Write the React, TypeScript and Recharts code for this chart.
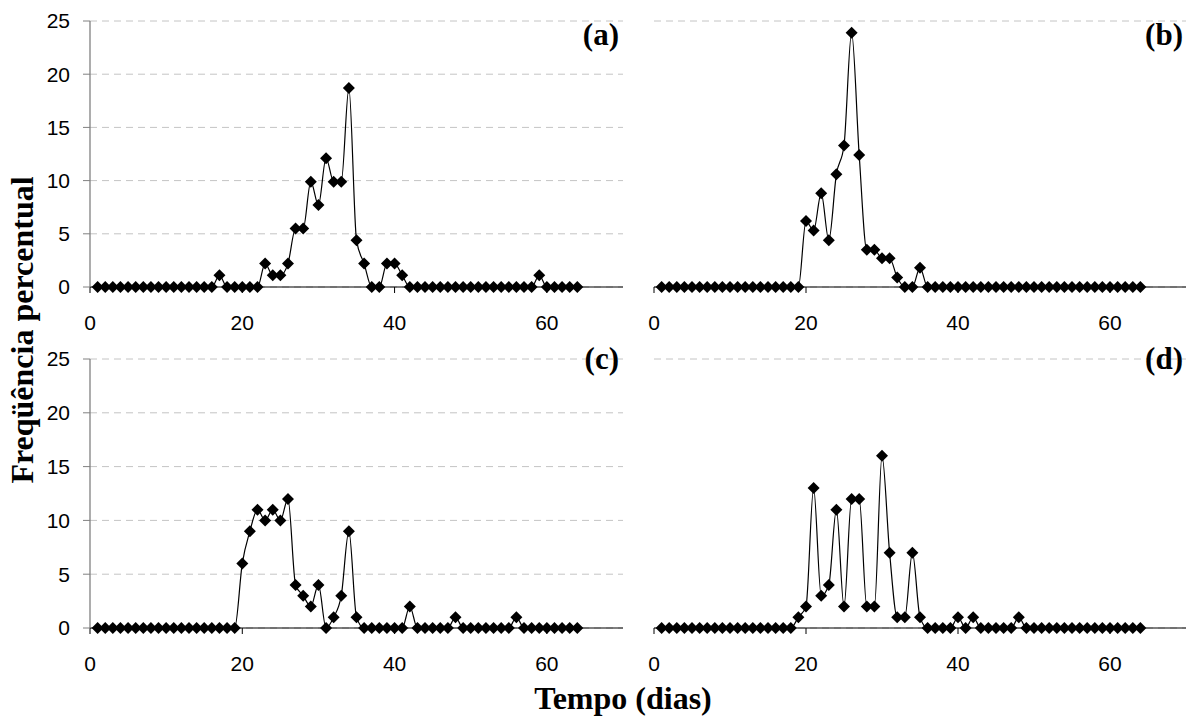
import React from "react";
import { LineChart, Line, XAxis, YAxis, CartesianGrid } from "recharts";

const days = [
  1, 2, 3, 4, 5, 6, 7, 8, 9, 10, 11, 12, 13, 14, 15, 16,
  17, 18, 19, 20, 21, 22, 23, 24, 25, 26, 27, 28, 29, 30, 31, 32,
  33, 34, 35, 36, 37, 38, 39, 40, 41, 42, 43, 44, 45, 46, 47, 48,
  49, 50, 51, 52, 53, 54, 55, 56, 57, 58, 59, 60, 61, 62, 63, 64,
];

const seriesA = [
  0, 0, 0, 0, 0, 0, 0, 0, 0, 0, 0, 0, 0, 0, 0, 0,
  1.1, 0, 0, 0, 0, 0, 2.2, 1.1, 1.1, 2.2, 5.5, 5.5, 9.9, 7.7, 12.1, 9.9,
  9.9, 18.7, 4.4, 2.2, 0, 0, 2.2, 2.2, 1.1, 0, 0, 0, 0, 0, 0, 0,
  0, 0, 0, 0, 0, 0, 0, 0, 0, 0, 1.1, 0, 0, 0, 0, 0,
];

const seriesB = [
  0, 0, 0, 0, 0, 0, 0, 0, 0, 0, 0, 0, 0, 0, 0, 0,
  0, 0, 0, 6.2, 5.3, 8.8, 4.4, 10.6, 13.3, 23.9, 12.4, 3.5, 3.5, 2.7, 2.7, 0.9,
  0, 0, 1.8, 0, 0, 0, 0, 0, 0, 0, 0, 0, 0, 0, 0, 0,
  0, 0, 0, 0, 0, 0, 0, 0, 0, 0, 0, 0, 0, 0, 0, 0,
];

const seriesC = [
  0, 0, 0, 0, 0, 0, 0, 0, 0, 0, 0, 0, 0, 0, 0, 0,
  0, 0, 0, 6, 9, 11, 10, 11, 10, 12, 4, 3, 2, 4, 0, 1,
  3, 9, 1, 0, 0, 0, 0, 0, 0, 2, 0, 0, 0, 0, 0, 1,
  0, 0, 0, 0, 0, 0, 0, 1, 0, 0, 0, 0, 0, 0, 0, 0,
];

const seriesD = [
  0, 0, 0, 0, 0, 0, 0, 0, 0, 0, 0, 0, 0, 0, 0, 0,
  0, 0, 1, 2, 13, 3, 4, 11, 2, 12, 12, 2, 2, 16, 7, 1,
  1, 7, 1, 0, 0, 0, 0, 1, 0, 1, 0, 0, 0, 0, 0, 1,
  0, 0, 0, 0, 0, 0, 0, 0, 0, 0, 0, 0, 0, 0, 0, 0,
];

const xTicks = [0, 20, 40, 60];
const yTicks = [0, 5, 10, 15, 20, 25];
const panelLabels = ["(a)", "(b)", "(c)", "(d)"];
const yTitle = "Freqüência percentual";
const xTitle = "Tempo (dias)";

const renderDiamond = (props: any) => {
  const { cx, cy, index } = props;
  if (cx == null || cy == null) return <g key={`n${index}`} />;
  const r = 6;
  return (
    <path
      key={`d${index}`}
      d={`M${cx},${cy - r}L${cx + r},${cy}L${cx},${cy + r}L${cx - r},${cy}Z`}
      fill="#000"
      stroke="none"
    />
  );
};

const tickFont = { fontFamily: "'Liberation Sans', Arial, sans-serif", fontSize: 21, fill: "#000" };

type PanelProps = {
  values: number[];
  left: number;
  top: number;
  width: number;
  height: number;
  margin: { top: number; right: number; bottom: number; left: number };
  showY: boolean;
};

function Panel({ values, left, top, width, height, margin, showY }: PanelProps) {
  const data = days.map((d, i) => ({ day: d, v: values[i] }));
  return (
    <div style={{ position: "absolute", left, top, width, height }}>
      <LineChart width={width} height={height} data={data} margin={margin}>
        <CartesianGrid
          vertical={false}
          stroke="#c4c4c4"
          strokeDasharray="7 5"
          strokeWidth={1}
        />
        <XAxis
          type="number"
          dataKey="day"
          domain={[0, 70]}
          ticks={xTicks}
          interval={0}
          height={43}
          tickSize={6}
          tickMargin={22}
          axisLine={{ stroke: "#000", strokeWidth: 1 }}
          tickLine={{ stroke: "#000", strokeWidth: 1 }}
          tick={tickFont}
        />
        {showY ? (
          <YAxis
            type="number"
            domain={[0, 25]}
            ticks={yTicks}
            interval={0}
            width={90}
            tickSize={7}
            tickMargin={13}
            axisLine={{ stroke: "#808080", strokeWidth: 1.3 }}
            tickLine={{ stroke: "#808080", strokeWidth: 1 }}
            tick={tickFont}
          />
        ) : (
          <YAxis
            type="number"
            domain={[0, 25]}
            ticks={yTicks}
            interval={0}
            width={0}
            axisLine={false}
            tickLine={false}
            tick={false}
          />
        )}
        <Line
          dataKey="v"
          type="monotone"
          stroke="#000"
          strokeWidth={1.2}
          dot={renderDiamond}
          activeDot={false}
          isAnimationActive={false}
        />
      </LineChart>
    </div>
  );
}

const serif = "'Liberation Serif', 'Times New Roman', serif";

export default function App() {
  return (
    <div
      style={{
        position: "absolute",
        left: 0,
        top: 0,
        width: 1196,
        height: 722,
        overflow: "hidden",
        background: "#fff",
      }}
    >
      <Panel values={seriesA} left={0} top={0} width={640} height={345}
        margin={{ top: 21, right: 17, bottom: 15, left: 0 }} showY={true} />
      <Panel values={seriesB} left={600} top={0} width={596} height={345}
        margin={{ top: 21, right: 10, bottom: 15, left: 54 }} showY={false} />
      <Panel values={seriesC} left={0} top={330} width={640} height={356}
        margin={{ top: 29, right: 17, bottom: 15, left: 0 }} showY={true} />
      <Panel values={seriesD} left={600} top={330} width={596} height={356}
        margin={{ top: 29, right: 10, bottom: 15, left: 54 }} showY={false} />
      <svg
        width={1196}
        height={722}
        style={{ position: "absolute", left: 0, top: 0, pointerEvents: "none" }}
      >
        <g fontFamily={serif} fontWeight="bold" fontSize={31} fill="#000">
          <text x={619} y={45} textAnchor="end">{panelLabels[0]}</text>
          <text x={1183} y={45} textAnchor="end">{panelLabels[1]}</text>
          <text x={619} y={369} textAnchor="end">{panelLabels[2]}</text>
          <text x={1183} y={369} textAnchor="end">{panelLabels[3]}</text>
        </g>
        <text
          x={33}
          y={330}
          transform="rotate(-90, 33, 330)"
          textAnchor="middle"
          fontFamily={serif}
          fontWeight="bold"
          fontSize={32}
          fill="#000"
        >
          {yTitle}
        </text>
        <text
          x={623}
          y={709}
          textAnchor="middle"
          fontFamily={serif}
          fontWeight="bold"
          fontSize={32}
          fill="#000"
        >
          {xTitle}
        </text>
      </svg>
    </div>
  );
}
